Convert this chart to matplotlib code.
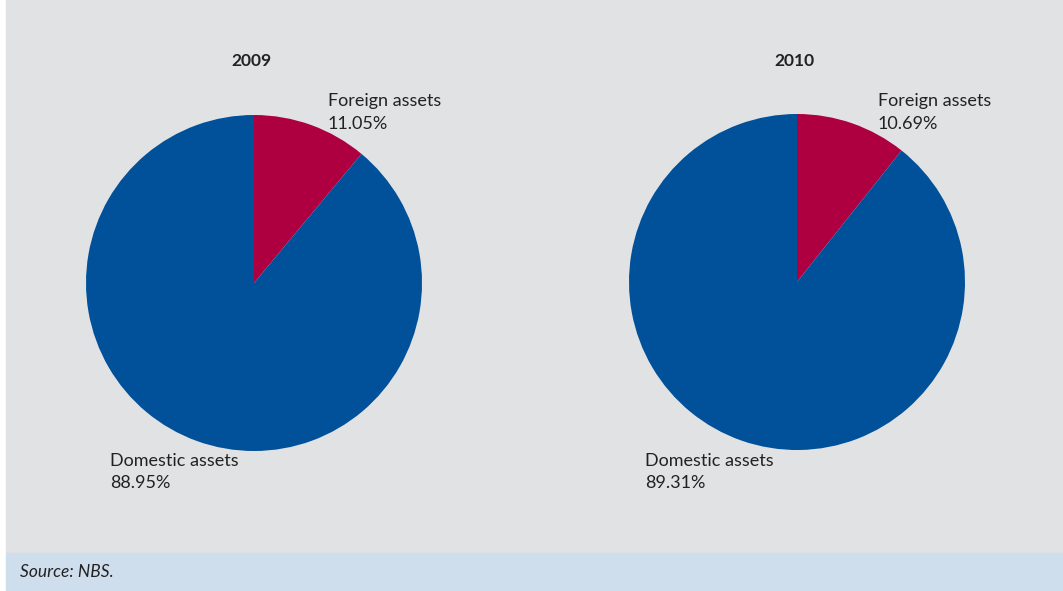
import matplotlib.pyplot as plt
from matplotlib.patches import Rectangle

years = ['2009', '2010']
foreign = [11.05, 10.69]
domestic = [88.95, 89.31]
labels = ['Foreign assets', 'Domestic assets']
colors = ['#ae0040', '#00509a']

plt.rcParams['font.family'] = ['Lato', 'DejaVu Sans']

W, H = 1063, 591
fig = plt.figure(figsize=(W / 100, H / 100), dpi=100)
ax = fig.add_axes([0, 0, 1, 1])

# backgrounds (pixel coords, y up)
ax.add_patch(Rectangle((6, H - 553), W - 6, 553, color='#e1e2e3', zorder=0))
ax.add_patch(Rectangle((6, 0), W - 6, H - 553, color='#cfdeed', zorder=0))
ax.text(20, H - 572, 'Source: NBS.', style='italic', fontsize=12.5, color='#222222', va='center')

centers = [(254, H - 283), (797, H - 282)]
fx = [328, 878]
dx = [110, 645]
r = 168
for i, yr in enumerate(years):
    cx, cy = centers[i]
    ax.pie([foreign[i], domestic[i]], colors=colors, startangle=90, counterclock=False,
           center=(cx, cy), radius=r, frame=True)
    ax.text(cx - 3, H - 61, yr, fontsize=12.5, fontweight='bold', ha='center', va='center', color='#222222')
    ax.text(fx[i], H - 101, labels[0], fontsize=13, va='center', color='#222222')
    ax.text(fx[i], H - 124, '%.2f%%' % foreign[i], fontsize=13, va='center', color='#222222')
    ax.text(dx[i], H - 461, labels[1], fontsize=13, va='center', color='#222222')
    ax.text(dx[i], H - 483, '%.2f%%' % domestic[i], fontsize=13, va='center', color='#222222')

ax.set_xlim(0, W)
ax.set_ylim(0, H)
ax.set_aspect('auto')
ax.axis('off')
fig.savefig('out.png', dpi=100, facecolor='white')
